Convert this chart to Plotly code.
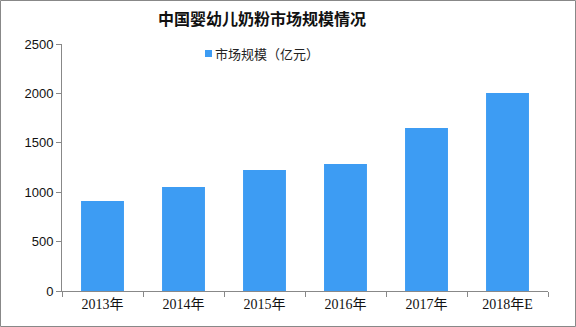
import plotly.graph_objects as go

categories = ["2013年", "2014年", "2015年", "2016年", "2017年", "2018年E"]
values = [911, 1053, 1225, 1285, 1650, 2004]
y_ticks = [0, 500, 1000, 1500, 2000, 2500]
series_name = "市场规模（亿元）"
title_text = "中国婴幼儿奶粉市场规模情况"
bar_color = "#3D9CF3"

L, R, T, B = 62, 28, 44, 36
W, H = 576, 327
pw, ph = W - L - R, H - T - B


def px_x(px):
    return (px - L) / pw


def px_y(py):
    return (H - B - py) / ph


fig = go.Figure()
fig.add_trace(go.Bar(x=categories, y=values, name=series_name,
                     marker=dict(color=bar_color, line=dict(width=0))))

fig.update_layout(
    width=W, height=H,
    margin=dict(l=L, r=R, t=T, b=B),
    paper_bgcolor="white", plot_bgcolor="white",
    bargap=0.47,
    showlegend=False,
    font=dict(family="Liberation Sans, Noto Sans CJK SC", size=13, color="#111"),
)
fig.update_xaxes(showline=True, linecolor="#888", linewidth=1,
                 ticks="outside", tickson="boundaries", ticklen=5, tickcolor="#888",
                 showgrid=False, tickfont=dict(size=14, family="Liberation Serif, Noto Sans CJK SC"))
fig.update_yaxes(range=[0, 2500], tickvals=y_ticks, showline=True, linecolor="#888",
                 linewidth=1, ticks="outside", ticklen=5, tickcolor="#888",
                 showgrid=False, zeroline=False,
                 tickfont=dict(size=13, family="Liberation Sans"))

# title
fig.add_annotation(text="<b>" + title_text + "</b>", xref="paper", yref="paper",
                   x=px_x(262), y=px_y(18), xanchor="center", yanchor="middle",
                   showarrow=False, font=dict(family="Noto Sans CJK SC", size=16, color="#111"))

# legend (marker square + label)
fig.add_shape(type="rect", xref="paper", yref="paper",
              x0=px_x(205), x1=px_x(212), y0=px_y(57), y1=px_y(50),
              line=dict(width=0), fillcolor=bar_color)
fig.add_annotation(text=series_name, xref="paper", yref="paper",
                   x=px_x(213), y=px_y(53.5), xanchor="left", yanchor="middle",
                   showarrow=False, font=dict(family="Noto Sans CJK SC", size=13, color="#222"))

# outer frame
fig.add_shape(type="rect", xref="paper", yref="paper",
              x0=px_x(0.5), x1=px_x(W - 0.5), y0=px_y(H - 0.5), y1=px_y(0.5),
              line=dict(color="#888", width=1), fillcolor="rgba(0,0,0,0)", layer="below")

fig.write_html("out.html")
